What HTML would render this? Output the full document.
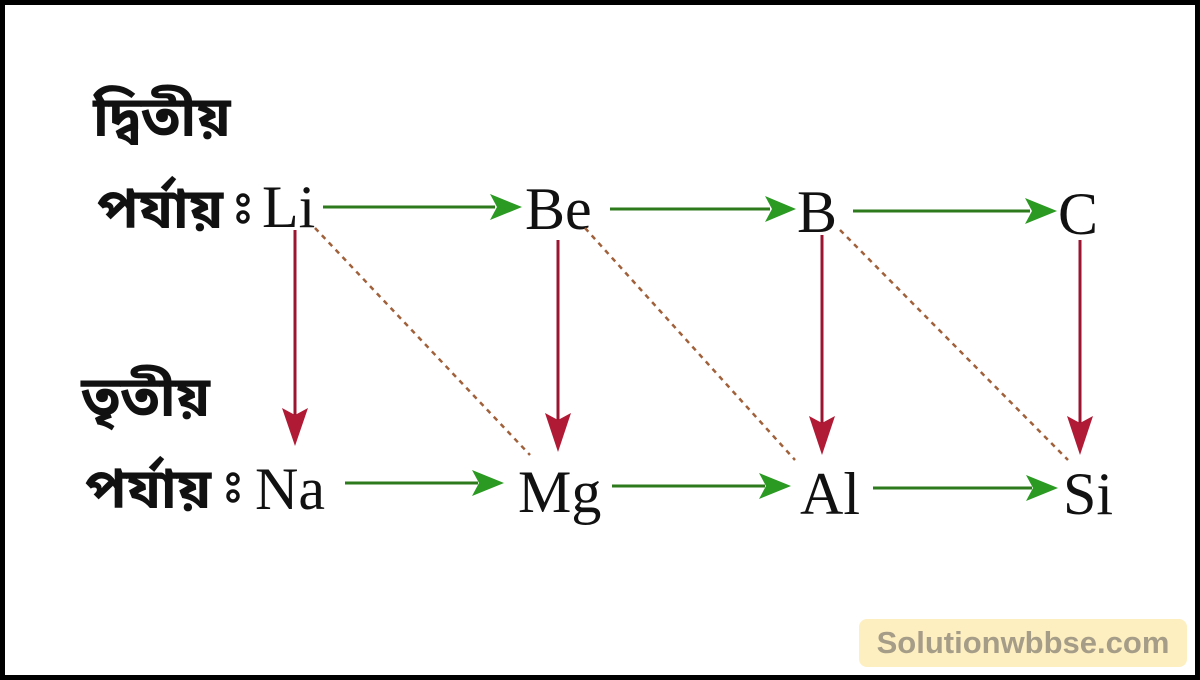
<!DOCTYPE html>
<html><head><meta charset="utf-8"><style>
html,body{margin:0;padding:0;background:#000;}
#c{position:relative;width:1190px;height:670px;margin:5px;background:#fff;overflow:hidden;}
.t{position:absolute;font-family:"Liberation Serif",serif;font-size:60px;color:#111;line-height:1;white-space:nowrap;}
.b{position:absolute;font-family:"Liberation Sans","Noto Sans Bengali","Lohit Bengali",sans-serif;font-weight:bold;font-size:56px;color:#111;line-height:1;white-space:nowrap;}
svg{position:absolute;left:-5px;top:-5px;}
.wm{position:absolute;left:854px;top:614px;width:328px;height:48px;background:#fdefc0;border-radius:8px;font-family:"Liberation Sans",sans-serif;font-weight:bold;font-size:31px;color:#a69d88;text-align:center;line-height:48px;}
</style></head><body><div id="c">
<div class="b" style="left:88px;top:84px">দ্বিতীয়</div>
<div class="b" style="left:92px;top:176px">পর্যায়</div>
<div class="b" style="left:76px;top:364px">তৃতীয়</div>
<div class="b" style="left:80px;top:456px">পর্যায়</div>
<div class="t" style="left:257px;top:172px">Li</div>
<div class="t" style="left:520px;top:174px">Be</div>
<div class="t" style="left:792px;top:177px">B</div>
<div class="t" style="left:1053px;top:179px">C</div>
<div class="t" style="left:250px;top:454px">Na</div>
<div class="t" style="left:513px;top:457px">Mg</div>
<div class="t" style="left:795px;top:459px">Al</div>
<div class="t" style="left:1058px;top:459px">Si</div>
<svg width="1200" height="680">
<g fill="none" stroke="#111" stroke-width="3.5">
<circle cx="243" cy="200" r="5"/><circle cx="243" cy="217" r="5"/>
<circle cx="233" cy="479" r="5"/><circle cx="233" cy="496" r="5"/>
</g>
<g stroke="#2d7a1c" stroke-width="3">
<line x1="323" y1="207" x2="495" y2="207"/><path d="M490,194 L522,207 L490,220 L497,207z" fill="#2a9a22" stroke="none"/>
<line x1="610" y1="209" x2="770" y2="209"/><path d="M765,196 L796,209 L765,222 L772,209z" fill="#2a9a22" stroke="none"/>
<line x1="853" y1="211" x2="1030" y2="211"/><path d="M1025,198 L1057,211 L1025,224 L1032,211z" fill="#2a9a22" stroke="none"/>
<line x1="345" y1="483" x2="478" y2="483"/><path d="M472,470 L504,483 L472,496 L479,483z" fill="#2a9a22" stroke="none"/>
<line x1="612" y1="486" x2="765" y2="486"/><path d="M759,473 L791,486 L759,499 L766,486z" fill="#2a9a22" stroke="none"/>
<line x1="873" y1="488" x2="1032" y2="488"/><path d="M1026,475 L1058,488 L1026,501 L1033,488z" fill="#2a9a22" stroke="none"/>
</g>
<g stroke="#9b1530" stroke-width="3">
<line x1="295" y1="230" x2="295" y2="420"/><path d="M282,408 L295,446 L308,408 L295,415z" fill="#b01a35" stroke="none"/>
<line x1="558" y1="240" x2="558" y2="425"/><path d="M545,413 L558,452 L571,413 L558,420z" fill="#b01a35" stroke="none"/>
<line x1="822" y1="235" x2="822" y2="428"/><path d="M809,416 L822,455 L835,416 L822,423z" fill="#b01a35" stroke="none"/>
<line x1="1080" y1="240" x2="1080" y2="428"/><path d="M1067,416 L1080,455 L1093,416 L1080,423z" fill="#b01a35" stroke="none"/>
</g>
<g stroke="#a0603a" stroke-width="2.5" stroke-dasharray="5,5">
<line x1="315" y1="228" x2="530" y2="455"/>
<line x1="585" y1="228" x2="795" y2="460"/>
<line x1="840" y1="230" x2="1068" y2="460"/>
</g>
</svg>
<div class="wm">Solutionwbbse.com</div>
</div></body></html>
